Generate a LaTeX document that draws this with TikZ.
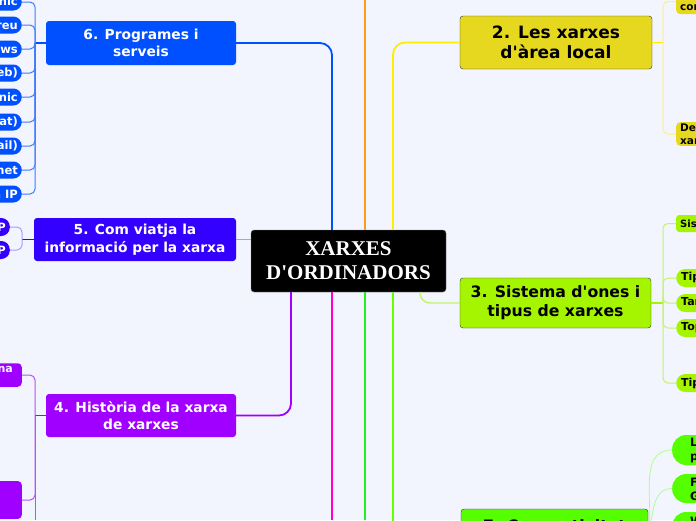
\documentclass[tikz,border=0pt]{standalone}
\usepackage{fontspec}
\newfontfamily\mapfont{DejaVu Sans}
\newfontfamily\titlefont{Liberation Serif}
\usepackage{tikz}
\usetikzlibrary{positioning}
\definecolor{fons}{HTML}{F2F5FD}
\definecolor{blau}{HTML}{0050FF}
\definecolor{indi}{HTML}{3300FF}
\definecolor{lila}{HTML}{A000FF}
\definecolor{groc}{HTML}{E6D81F}
\definecolor{llima}{HTML}{A6F500}
\definecolor{verd}{HTML}{55FF00}
\definecolor{taronja}{HTML}{FF9A1E}
\definecolor{grocfort}{HTML}{FFEE00}
\definecolor{magenta1}{HTML}{FF00CC}
\definecolor{verdfort}{HTML}{22EE22}
\definecolor{verdllima}{HTML}{66FF00}
\definecolor{violeta}{HTML}{A89CFF}
\definecolor{blauclar}{HTML}{3F7BFF}
\definecolor{lilaclar}{HTML}{B850FF}
\definecolor{grocclar}{HTML}{FFF27A}
\definecolor{llimaclar}{HTML}{C4F26A}
\definecolor{verdclar}{HTML}{A8FF88}

\begin{document}
\begin{tikzpicture}[x=1pt,y=-1pt,
      centre/.style={rectangle, rounded corners=3pt, fill=black, draw=gray, text=white, align=center, minimum width=195pt, minimum height=62pt, font=\titlefont\bfseries\fontsize{21}{24}\selectfont},
      branch/.style={rectangle, rounded corners=3pt, align=center, minimum width=190pt, minimum height=44pt, inner sep=1pt, font=\mapfont\bfseries\fontsize{13.8}{17.5}\selectfont},
      leaf/.style={rectangle, rounded corners=8.5pt, minimum height=17pt, inner xsep=4pt, inner ysep=1pt, font=\mapfont\bfseries\fontsize{11.5}{13.5}\selectfont},
      box/.style={leaf, rounded corners=4pt, align=left},
      trunk/.style={line width=1.8pt, rounded corners=12pt},
      twig/.style={line width=1pt, rounded corners=5pt}]

\useasboundingbox (0,0) rectangle (696,520);
\fill[fons] (0,0) rectangle (696,520);
\clip (0,0) rectangle (696,520);

\node[centre] (c) at (348.5,261) {XARXES\\D'ORDINADORS};
\node[branch, fill=blau, text=white] (b6) at (141,43) {6. Programes i\\serveis};
\node[branch, fill=indi, text=white, minimum width=202pt, minimum height=43pt] (b5) at (135,239.5) {5. Com viatja la\\informació per la xarxa};
\node[branch, fill=lila, text=white, minimum height=43pt] (b4) at (141,415.5) {4. Història de la xarxa\\de xarxes};
\node[branch, fill=groc, draw=black!80, minimum width=192pt, minimum height=53pt, font=\mapfont\bfseries\fontsize{17}{20}\selectfont] (b2) at (556,42.5) {2. Les xarxes\\d'àrea local};
\node[branch, fill=llima, draw=black!80, minimum width=191pt, minimum height=50pt, font=\mapfont\bfseries\fontsize{15.7}{19}\selectfont] (b3) at (555.5,303) {3. Sistema d'ones i\\tipus de xarxes};
\node[branch, fill=verd, draw=black!80, minimum width=187pt, minimum height=52pt, font=\mapfont\bfseries\fontsize{15.7}{19}\selectfont] (b7) at (554.5,535) {7. Connectivitat\\sense fils};

\node[leaf, fill=blau, text=white, anchor=east] (l61) at (22,2) {Comerç electrònic};
\node[leaf, fill=blau, text=white, anchor=east] (l62) at (22,25) {Correu};
\node[leaf, fill=blau, text=white, anchor=east] (l63) at (22,49) {News};
\node[leaf, fill=blau, text=white, anchor=east] (l64) at (22,73) {World Wide Web (web)};
\node[leaf, fill=blau, text=white, anchor=east] (l65) at (22,97) {Govern electrònic};
\node[leaf, fill=blau, text=white, anchor=east] (l66) at (22,122) {Xat (chat)};
\node[leaf, fill=blau, text=white, anchor=east] (l67) at (22,146) {Correu electrònic (e-mail)};
\node[leaf, fill=blau, text=white, anchor=east] (l68) at (22,170) {Telnet};
\node[leaf, fill=blau, text=white, anchor=east] (l69) at (22,194) {Telefonia IP};

\node[leaf, fill=indi, text=white, anchor=east, minimum height=18pt] (l51) at (10,227) {Protocol TCP};
\node[leaf, fill=indi, text=white, anchor=east, minimum height=18pt] (l52) at (10,250) {Protocol IP};

\node[box, fill=lila, text=white, anchor=east, align=center, inner xsep=9pt, font=\mapfont\bfseries\fontsize{11}{13}\selectfont] (l41) at (22,375) {1969: el naixement d'ARPANET, una\\xarxa militar};
\node[box, fill=lila, text=white, anchor=east, minimum width=250pt, minimum height=34pt, text width=110pt] (l42) at (22,500) {La xarxa de xarxes:\\Internet};

\node[box, fill=groc, anchor=west, font=\mapfont\bfseries\fontsize{10.5}{13}\selectfont] (l21) at (676,1.5) {Elements i\\components};
\node[box, fill=groc, anchor=west, font=\mapfont\bfseries\fontsize{10.5}{13}\selectfont] (l22) at (676,134) {Definició de\\xarxa local};

\node[box, fill=llima, anchor=west, rounded corners=3pt, minimum height=17pt, font=\mapfont\bfseries\fontsize{10}{12}\selectfont] (l31) at (676,223.5) {Sistemes de transmissió};
\node[leaf, fill=llima, anchor=west, rounded corners=9pt, minimum height=18pt, inner xsep=5pt, font=\mapfont\bfseries\fontsize{11}{13}\selectfont] (l32) at (676,278) {Tipus de xarxes segons l'abast};
\node[leaf, fill=llima, anchor=west, rounded corners=9pt, minimum height=18pt, inner xsep=5pt, font=\mapfont\bfseries\fontsize{11}{13}\selectfont] (l33) at (676,303) {Targetes de xarxa};
\node[leaf, fill=llima, anchor=west, rounded corners=9pt, minimum height=18pt, inner xsep=5pt, font=\mapfont\bfseries\fontsize{11}{13}\selectfont] (l34) at (676,328) {Topologia de xarxes};
\node[leaf, fill=llima, anchor=west, rounded corners=9pt, minimum height=18pt, inner xsep=5pt, font=\mapfont\bfseries\fontsize{11}{13}\selectfont] (l35) at (676,383) {Tipus de connexió};

\node[leaf, fill=verd, anchor=west, align=left, rounded corners=14pt, minimum height=30pt, inner xsep=18pt, font=\mapfont\bfseries\fontsize{11.5}{14}\selectfont] (l71) at (672,450) {Línies\\privades};
\node[leaf, fill=verd, anchor=west, align=left, rounded corners=14pt, minimum height=29pt, inner xsep=18pt, font=\mapfont\bfseries\fontsize{11.5}{14}\selectfont] (l72) at (672,488.5) {Fibra òptica i\\GPRS};
\node[leaf, fill=verd, anchor=west, align=left, rounded corners=14pt, minimum height=32pt, inner xsep=18pt, font=\mapfont\bfseries\fontsize{11.5}{14}\selectfont] (l73) at (672,528) {Wi-Fi\\i WiMAX};

\coordinate (t1) at (365,0);
\coordinate (k1) at (291,520);
\coordinate (k2) at (332,520);
\coordinate (k3) at (365,520);
\coordinate (k4) at (393,520);
\coordinate (k5) at (420,520);
\coordinate (j6) at (35,43);
\coordinate (j5) at (22,239.5);
\coordinate (j4) at (35,415.5);
\coordinate (e4) at (35,520);
\coordinate (j2) at (663,42.5);
\coordinate (j3) at (663,303);

\draw[trunk, blau] (c.north -| k2) |- (b6.east);
\draw[trunk, taronja] (c.north -| t1) -- (t1);
\draw[trunk, grocfort] (c.north -| k4) |- (b2.west);
\draw[trunk, violeta, line width=1.4pt] (b5.east) -- (b5.east -| c.west);
\draw[trunk, lila] (c.south -| k1) |- (b4.east);
\draw[trunk, magenta1] (c.south -| k2) -- (k2);
\draw[trunk, verdfort] (c.south -| k3) -- (k3);
\draw[trunk, verdllima] (c.south -| k4) |- (b7.west);
\draw[trunk, llimaclar, line width=1.4pt, rounded corners=10pt] (c.south -| k5) |- (b3.west);

\draw[twig, blau, line width=1.6pt] (b6.west) -- (j6);
\draw[twig, blauclar] (j6) |- (l61.east);
\draw[twig, blauclar] (j6) |- (l62.east);
\draw[twig, blauclar] (j6) |- (l63.east);
\draw[twig, blauclar] (j6) |- (l64.east);
\draw[twig, blauclar] (j6) |- (l65.east);
\draw[twig, blauclar] (j6) |- (l66.east);
\draw[twig, blauclar] (j6) |- (l67.east);
\draw[twig, blauclar] (j6) |- (l68.east);
\draw[twig, blauclar] (j6) |- (l69.east);

\draw[twig, indi, line width=1.6pt] (b5.west) -- (j5);
\draw[twig, violeta] (j5) |- (l51.east);
\draw[twig, violeta] (j5) |- (l52.east);

\draw[twig, lila, line width=1.6pt] (b4.west) -- (j4);
\draw[twig, lilaclar] (j4) |- (l41.east);
\draw[twig, lilaclar] (j4) |- (l42.east);
\draw[twig, lilaclar] (j4) -- (e4);

\draw[twig, grocfort, line width=1.6pt] (b2.east) -- (j2);
\draw[twig, grocclar] (j2) |- (l21.west);
\draw[twig, grocclar] (j2) |- (l22.west);

\draw[twig, llima, line width=1.6pt] (b3.east) -- (j3);
\draw[twig, llimaclar] (j3) |- (l31.west);
\draw[twig, llimaclar] (j3) |- (l32.west);
\draw[twig, llimaclar] (j3) |- (l33.west);
\draw[twig, llimaclar] (j3) |- (l34.west);
\draw[twig, llimaclar] (j3) |- (l35.west);

\draw[verdclar, line width=0.7pt] (b7.east) to[out=80,in=180] (l71.west);
\draw[verdclar, line width=0.7pt] (b7.east) to[out=75,in=180] (l72.west);
\draw[verdclar, line width=0.7pt] (b7.east) to[out=60,in=180] (l73.west);

\end{tikzpicture}
\end{document}
